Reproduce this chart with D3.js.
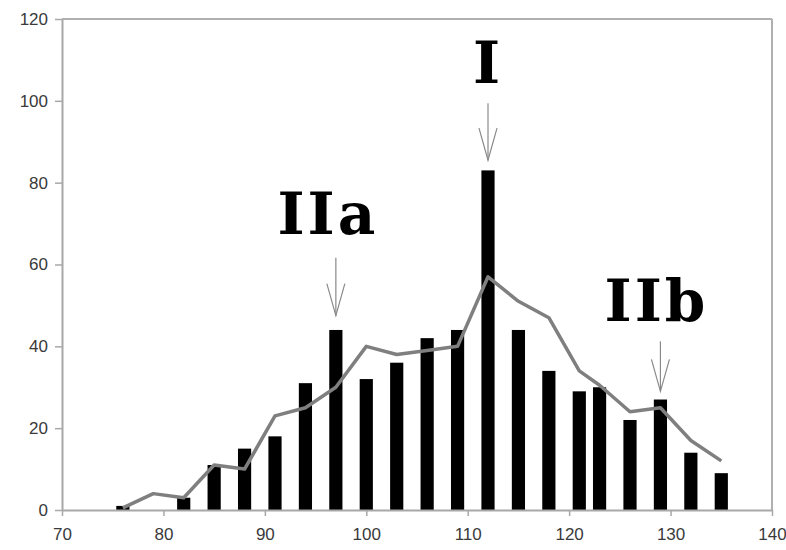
<!DOCTYPE html>
<html>
<head>
<meta charset="utf-8">
<script src="https://cdn.jsdelivr.net/npm/d3@7"></script>
<style>
  body { margin: 0; background: #fff; }
  svg text { font-family: "Liberation Sans", Arial, sans-serif; }
</style>
</head>
<body>
<div id="container"></div>
<script>
const WIDTH = 786;
const HEIGHT = 550;

// histogram bars
const barX = [76, 82, 85, 88, 91, 94, 97, 100, 103, 106, 109, 112, 115, 118, 121, 123, 126, 129, 132, 135];
const barY = [1, 3, 11, 15, 18, 31, 44, 32, 36, 42, 44, 83, 44, 34, 29, 30, 22, 27, 14, 9];

// smoothed line
const lineX = [76, 79, 82, 85, 88, 91, 94, 97, 100, 103, 106, 109, 112, 115, 118, 121, 123, 126, 129, 132, 135];
const lineY = [0.5, 4, 3, 11, 10, 23, 25, 30, 40, 38, 39, 40, 57, 51, 47, 34, 30.5, 24, 25, 17, 12];

const xTicks = [70, 80, 90, 100, 110, 120, 130, 140];
const yTicks = [0, 20, 40, 60, 80, 100, 120];

// peak annotations
const annoLabels = ["IIa", "I", "IIb"];
const annoX = [97, 112, 129];
const annoTip = [47.5, 85.5, 29];

const x = d3.scaleLinear().domain([70, 140]).range([62, 772]);
const y = d3.scaleLinear().domain([0, 120]).range([510, 19]);

const svg = d3.select("#container")
  .append("svg")
  .attr("width", WIDTH)
  .attr("height", HEIGHT);

// frame top/right
svg.append("line")
  .attr("x1", x(70)).attr("x2", x(140))
  .attr("y1", y(120)).attr("y2", y(120))
  .attr("stroke", "#b0b0b0").attr("stroke-width", 2);
svg.append("line")
  .attr("x1", x(140)).attr("x2", x(140))
  .attr("y1", y(120)).attr("y2", y(0))
  .attr("stroke", "#b0b0b0").attr("stroke-width", 2);

const bw = x(71.3) - x(70);
svg.append("g")
  .selectAll("rect")
  .data(barX)
  .join("rect")
  .attr("x", (d) => x(d) - bw / 2)
  .attr("width", bw)
  .attr("y", (d, i) => y(barY[i]))
  .attr("height", (d, i) => y(0) - y(barY[i]))
  .attr("fill", "#000");

const line = d3.line()
  .x((d) => x(d))
  .y((d, i) => y(lineY[i]));

svg.append("path")
  .datum(lineX)
  .attr("d", line)
  .attr("fill", "none")
  .attr("stroke", "#7f7f7f")
  .attr("stroke-width", 3.5)
  .attr("stroke-linejoin", "round");

const xAxis = svg.append("g")
  .attr("transform", `translate(0, ${y(0)})`)
  .call(d3.axisBottom(x).tickValues(xTicks).tickSize(6).tickSizeOuter(0).tickPadding(12));
const yAxis = svg.append("g")
  .attr("transform", `translate(${x(70)}, 0)`)
  .call(d3.axisLeft(y).tickValues(yTicks).tickSize(7).tickSizeOuter(0).tickPadding(7));

[xAxis, yAxis].forEach((g) => {
  g.select(".domain").attr("stroke", "#a8a8a8").attr("stroke-width", 2);
  g.selectAll(".tick line").attr("stroke", "#a8a8a8").attr("stroke-width", 1.5);
  g.selectAll(".tick text")
    .attr("fill", "#3a3a3a")
    .style("font-size", "17px")
    .style("font-family", "'Liberation Sans', Arial, sans-serif");
});

// annotations: arrow stem length and text offsets per peak
const stemLen = [58, 57, 50];
const textGap = [24, 20, 20];
const textShift = [-8, 0, -4];

const anno = svg.append("g");
annoLabels.forEach((label, i) => {
  const ax = x(annoX[i]);
  const tip = y(annoTip[i]);
  const top = tip - stemLen[i];
  anno.append("line")
    .attr("x1", ax).attr("x2", ax)
    .attr("y1", top).attr("y2", tip)
    .attr("stroke", "#8a8a8a").attr("stroke-width", 1.2);
  anno.append("path")
    .attr("d", `M${ax - 9},${tip - 32}L${ax},${tip}L${ax + 9},${tip - 32}`)
    .attr("fill", "none")
    .attr("stroke", "#8a8a8a").attr("stroke-width", 1.2);
  anno.append("text")
    .attr("x", ax + textShift[i])
    .attr("y", top - textGap[i])
    .attr("text-anchor", "middle")
    .style("font-family", "'DejaVu Serif', serif")
    .style("font-weight", "bold")
    .style("font-size", "58px")
    .style("letter-spacing", "3px")
    .attr("fill", "#000")
    .text(label);
});
</script>
</body>
</html>
